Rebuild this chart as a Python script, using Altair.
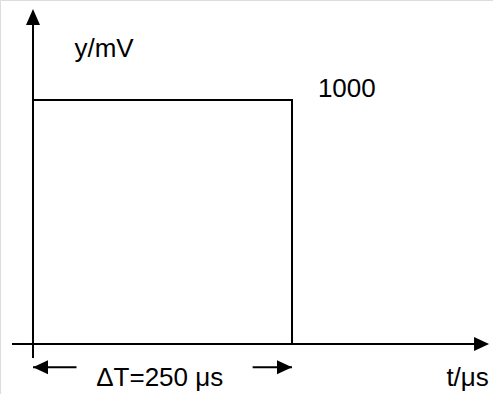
import altair as alt
import pandas as pd

# Rectangular pulse: time in µs, amplitude in mV
pulse_t = [0, 0, 250, 250]
pulse_y = [0, 1000, 1000, 0]

# Scale domains (µs, mV)
T_DOMAIN = [-31.85, 444.0]
Y_DOMAIN = [-204.9, 1409.8]

# Axis shafts and the ΔT marker shafts: start/end points
shaft_t1 = [0, -20.3, 0, 212]
shaft_t2 = [0, 431, 42, 250]
shaft_y1 = [-57, 0, -95, -95]
shaft_y2 = [1360, 0, -95, -95]

# Arrowheads: tip positions and outline (px units)
head_t = [0, 440.2, 0, 250]
head_y = [1373, 0, -95, -95]
head_shape = [
    "M0,0L-7,16L7,16Z",
    "M0,0L-15,-7L-15,7Z",
    "M0,0L15,-7L15,7Z",
    "M0,0L-15,-7L-15,7Z",
]

# Labels
label_text = ["y/mV", "1000", "\u0394T=250 \u03bcs", "t/\u03bcs"]
label_t = [40, 275, 61, 399]
label_y = [1176, 1012, -174, -174]

x_scale = alt.Scale(domain=T_DOMAIN, nice=False, zero=False)
y_scale = alt.Scale(domain=Y_DOMAIN, nice=False, zero=False)

pulse_df = pd.DataFrame({"t": pulse_t, "y": pulse_y, "order": range(len(pulse_t))})
shaft_df = pd.DataFrame({"t1": shaft_t1, "t2": shaft_t2, "y1": shaft_y1, "y2": shaft_y2})
head_df = pd.DataFrame({"t": head_t, "y": head_y, "shape": head_shape})
label_df = pd.DataFrame({"text": label_text, "t": label_t, "y": label_y})

pulse = alt.Chart(pulse_df).mark_line(color="black", strokeWidth=2).encode(
    x=alt.X("t:Q", scale=x_scale, axis=None),
    y=alt.Y("y:Q", scale=y_scale, axis=None),
    order="order:Q",
)

shafts = alt.Chart(shaft_df).mark_rule(color="black", strokeWidth=2).encode(
    x=alt.X("t1:Q", scale=x_scale, axis=None),
    x2="t2:Q",
    y=alt.Y("y1:Q", scale=y_scale, axis=None),
    y2="y2:Q",
)

heads = alt.Chart(head_df).mark_point(
    filled=True, color="black", opacity=1, strokeWidth=0, size=4
).encode(
    x=alt.X("t:Q", scale=x_scale, axis=None),
    y=alt.Y("y:Q", scale=y_scale, axis=None),
    shape=alt.Shape("shape:N", scale=None),
)

labels = alt.Chart(label_df).mark_text(
    font="Liberation Sans", fontSize=26, color="black", align="left", baseline="alphabetic"
).encode(
    x=alt.X("t:Q", scale=x_scale, axis=None),
    y=alt.Y("y:Q", scale=y_scale, axis=None),
    text="text:N",
)

chart = (
    alt.layer(shafts, pulse, heads, labels)
    .properties(width=493, height=394, autosize=alt.AutoSizeParams(type="none"), padding=0)
    .configure_view(stroke=None)
    .configure(background="white")
)

chart.save("out.html", embed_options={"renderer": "svg", "actions": False})
